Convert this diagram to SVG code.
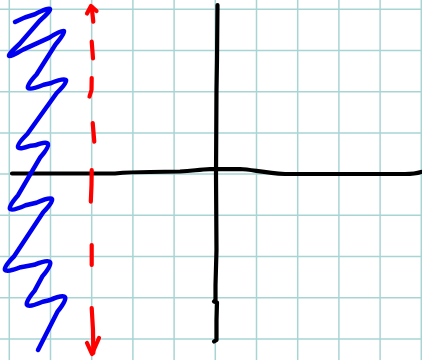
<svg xmlns="http://www.w3.org/2000/svg" width="422" height="360" viewBox="0 0 422 360">
  <style>
    .grid line { stroke: #a9d4d4; stroke-width: 1.5; }
    .ink { fill: none; stroke-linecap: round; stroke-linejoin: round; }
    .black { stroke: #000000; stroke-width: 4.2; }
    .blue { stroke: #0000f0; stroke-width: 4.5; }
    .red { stroke: #ff0000; stroke-width: 4.2; }
  </style>
  <rect width="422" height="360" fill="#ffffff"/>
  <g id="grid" class="grid">
    <line x1="9.3" y1="0" x2="9.3" y2="360"/>
    <line x1="50.5" y1="0" x2="50.5" y2="360"/>
    <line x1="91.7" y1="0" x2="91.7" y2="360"/>
    <line x1="132.9" y1="0" x2="132.9" y2="360"/>
    <line x1="174.1" y1="0" x2="174.1" y2="360"/>
    <line x1="215.3" y1="0" x2="215.3" y2="360"/>
    <line x1="256.5" y1="0" x2="256.5" y2="360"/>
    <line x1="297.7" y1="0" x2="297.7" y2="360"/>
    <line x1="338.9" y1="0" x2="338.9" y2="360"/>
    <line x1="380.1" y1="0" x2="380.1" y2="360"/>
    <line x1="421.3" y1="0" x2="421.3" y2="360"/>
    <line x1="0" y1="9.3" x2="422" y2="9.3"/>
    <line x1="0" y1="50.5" x2="422" y2="50.5"/>
    <line x1="0" y1="91.7" x2="422" y2="91.7"/>
    <line x1="0" y1="132.9" x2="422" y2="132.9"/>
    <line x1="0" y1="174.1" x2="422" y2="174.1"/>
    <line x1="0" y1="215.3" x2="422" y2="215.3"/>
    <line x1="0" y1="256.5" x2="422" y2="256.5"/>
    <line x1="0" y1="297.7" x2="422" y2="297.7"/>
    <line x1="0" y1="338.9" x2="422" y2="338.9"/>
  </g>
  <g id="axes" class="ink black">
    <path d="M12,173.5 L115,173.5 C125,172.5 135,172 150,172 L180,171.5 C195,170.5 200,169.5 210,169.2 L240,169 C252,169.5 262,172.5 285,174 L405,174 C412,174 418,173 421,172"/>
    <path d="M217.5,5 L217,60 L216.5,90 L216,175 L216.5,250 L215.5,285 L215.5,300 L214,301.5 L217,302.5 L216.5,320 L216.5,340 L214,341.5"/>
  </g>
  <g id="squiggle" class="ink blue">
    <path d="M15,22 Q24,17 34.9,14.2 Q62.8,0.4 39.5,21 L19.5,44 Q-3.55,65.3 23.6,49.4 L49.4,37.6 Q75.55,20.95 55.5,44.5 L36.5,74.5 Q15.9,96.4 43.7,84.7 L50.3,83.3 Q78.5,71.85 56.7,93 L27.3,134 Q6.9,154.15 30.9,145.7 L35.1,145.3 Q58.5,136.45 39.9,157.8 L18.1,195.2 Q-1.85,217.75 25.6,205.3 L36.4,202.7 Q64.2,190.5 43.2,212.3 L13.8,256.7 Q-7.3,278.05 20.8,267.2 L34.2,264.8 Q61.65,253.55 42.5,276.1 L34.5,290.9 Q15.4,313.7 42.7,301.7 L49.3,300.3 Q76.5,288.2 57.7,311.3 L38,350"/>
  </g>
  <g id="dashed-arrow" class="ink red">
    <path d="M91.7,7 L93.3,21.7"/>
    <path d="M87,13.5 L91,6 L96.5,11"/>
    <path d="M91.7,41.7 L93,58.3"/>
    <path d="M91.7,78 L91.5,90 L89.5,96.5"/>
    <path d="M92.7,123 L94.3,141.7"/>
    <path d="M91.7,170 L91.5,185 L90.8,201.7"/>
    <path d="M91.7,245 L91.7,265"/>
    <path d="M91.7,308 L93,330 L93.3,353"/>
    <path d="M87,343 L92,354 L99,338"/>
  </g>
</svg>
